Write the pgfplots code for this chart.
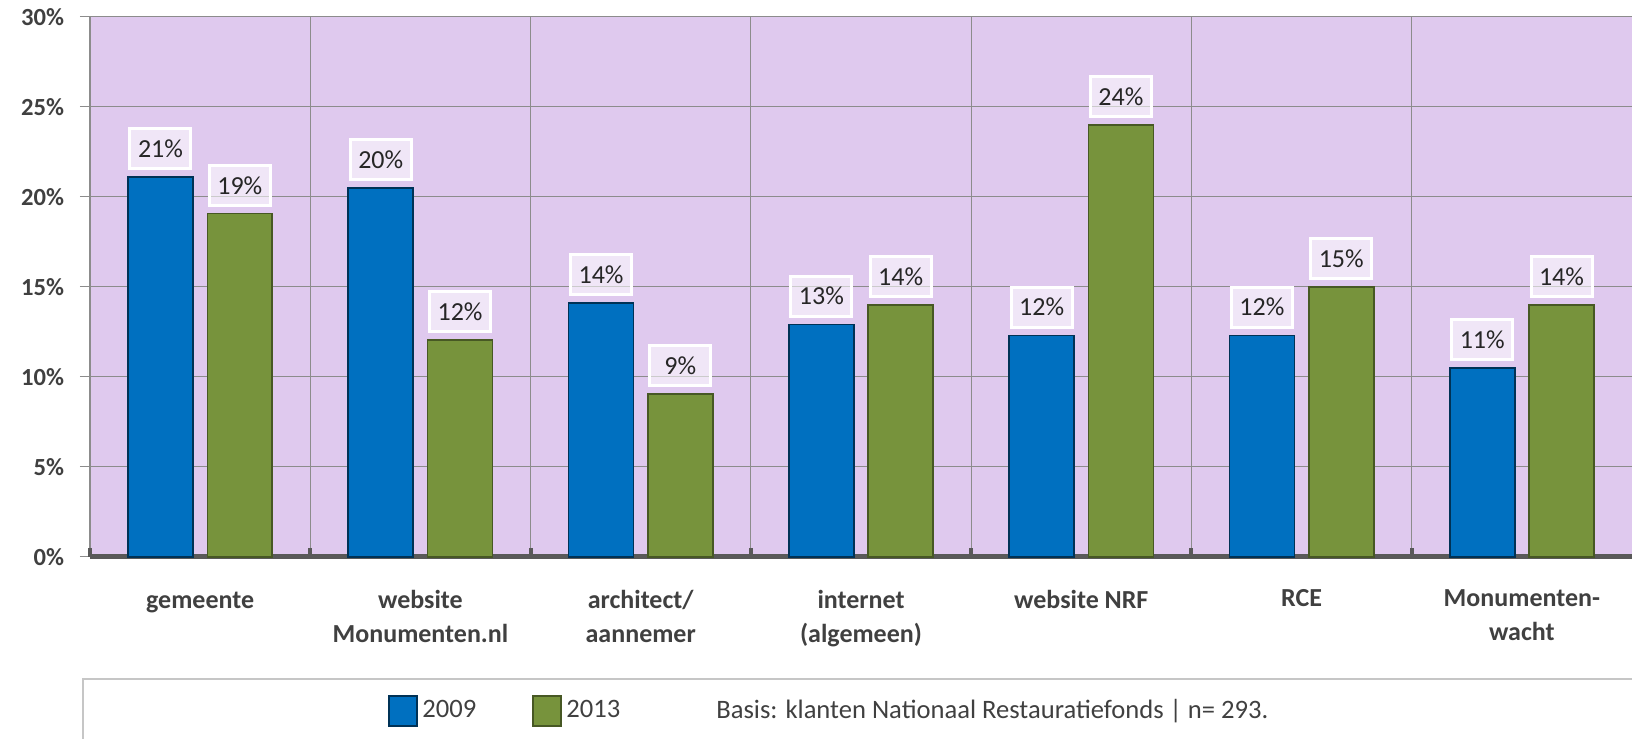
\documentclass[border=0pt]{standalone}
\usepackage{fontspec}
\setmainfont{Carlito}
\usepackage{pgfplots}
\pgfplotsset{compat=1.18}
\definecolor{bg}{HTML}{DFC9EE}
\definecolor{blue09}{HTML}{0070C0}
\definecolor{green13}{HTML}{77933C}
\definecolor{gridgray}{HTML}{8C8C8C}
\definecolor{axisgray}{HTML}{595959}
\definecolor{txt}{HTML}{404040}
\pgfplotsset{sq legend/.style={legend image code/.code={\draw[##1, line width=1pt] (0pt,-7.5pt) rectangle (14pt,7.5pt);}}}

\begin{document}
\begin{tikzpicture}
\begin{axis}[
  scale only axis, width=771pt, height=270pt,
  xmin=-0.5, xmax=6.5, ymin=0, ymax=30,
  clip=false,
  axis background/.style={fill=bg},
  axis x line*=bottom, axis y line*=left,
  x axis line style={axisgray, line width=2.3pt},
  y axis line style={gridgray, line width=0.6pt},
  tick align=outside,
  ytick={0,5,...,30},
  yticklabels={0\%,5\%,10\%,15\%,20\%,25\%,30\%},
  ymajorgrids, grid style={gridgray, line width=0.6pt},
  ytick style={gridgray, line width=0.6pt},
  major tick length=5pt,
  yticklabel style={font=\fontsize{12.3}{15}\selectfont\bfseries, text=txt, xshift=-4.5pt},
  xtick={0,...,6},
  xtick style={draw=none},
  xticklabels={{\vphantom{b}gemeente},{website\\Monumenten.nl},{architect/\\aannemer},
    {internet\\(algemeen)},{website NRF},{RCE},{Monumenten-\\wacht}},
  xticklabel style={font=\fontsize{13}{17}\selectfont\bfseries, text=txt, align=center, yshift=-8pt},
  extra x ticks={-0.5,0.5,...,5.5},
  extra x tick labels={},
  extra x tick style={grid=major, tick align=inside,
    xtick style={draw=axisgray, line width=2pt}, major tick length=4.5pt},
  ybar,
  nodes near coords, point meta=explicit symbolic,
  every node near coord/.append style={font=\fontsize{13}{15}\selectfont, text=black!85,
    fill=white, fill opacity=0.55, text opacity=1, draw=white, draw opacity=1,
    line width=1.5pt, minimum width=30.5pt, minimum height=20pt, inner sep=1pt,
    anchor=south, yshift=3.4pt},
  legend columns=3,
  legend style={at={(0.1933,-0.285)}, anchor=west, draw=none, fill=none,
    font=\fontsize{13.3}{15}\selectfont, text=txt, inner sep=0pt,
    /tikz/column 2/.style={column sep=26pt},
    /tikz/column 4/.style={column sep=44pt}},
]
\addplot[ybar, bar width=0.295, bar shift=-0.18, fill=blue09, draw=blue09!45!black, line width=0.8pt, sq legend]
  coordinates {(0,21.1)[21\%] (1,20.5)[20\%] (2,14.1)[14\%] (3,12.9)[13\%] (4,12.3)[12\%] (5,12.3)[12\%] (6,10.5)[11\%]};
\addlegendentry{2009}
\addplot[ybar, bar width=0.295, bar shift=0.18, fill=green13, draw=green13!60!black, line width=0.8pt, sq legend]
  coordinates {(0,19.06)[19\%] (1,12.03)[12\%] (2,9.04)[9\%] (3,14.0)[14\%] (4,24.0)[24\%] (5,15.0)[15\%] (6,14.0)[14\%]};
\addlegendentry{2013}
\addlegendimage{empty legend}
\addlegendentry{Basis: klanten Nationaal Restauratiefonds | n= 293.}
\draw[gray!45, line width=1.2pt] (rel axis cs:-0.00454,-0.5) -- (rel axis cs:-0.00454,-0.226) -- (rel axis cs:1.05,-0.226);
\coordinate (bbA) at (rel axis cs:0,0);
\coordinate (bbB) at (rel axis cs:1,1);
\end{axis}
\pgfresetboundingbox
\useasboundingbox ([shift={(-45pt,-91pt)}]bbA) rectangle ([shift={(0pt,8.35pt)}]bbB);
\end{tikzpicture}
\end{document}
